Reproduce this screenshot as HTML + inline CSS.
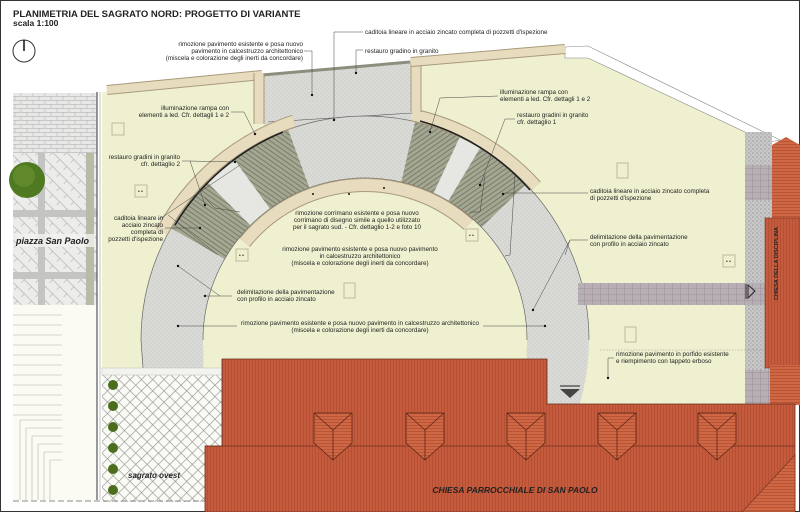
<!DOCTYPE html>
<html><head><meta charset="utf-8"><style>
html,body{margin:0;padding:0;background:#fff}
svg{display:block}
text{font-family:"Liberation Sans",sans-serif;fill:#222}
.s{font-size:6.3px}
</style></head><body>
<svg width="800" height="512" viewBox="0 0 800 512" xmlns="http://www.w3.org/2000/svg">
<defs>
<pattern id="roof" width="3" height="10" patternUnits="userSpaceOnUse"><rect width="3" height="10" fill="#c55b3c"/><rect width="1" height="10" fill="#a9492e" opacity=".6"/></pattern>
<pattern id="roofh" width="10" height="3" patternUnits="userSpaceOnUse"><rect width="10" height="3" fill="#cf6644"/><rect width="10" height="1" fill="#a9492e" opacity=".6"/></pattern>
<pattern id="pave" width="4" height="4" patternUnits="userSpaceOnUse"><rect width="4" height="4" fill="#dadad6"/><circle cx="1" cy="1" r=".6" fill="#c4c4c0"/><circle cx="3" cy="3" r=".6" fill="#c8c8c4"/></pattern>
<pattern id="stair" width="4" height="4" patternUnits="userSpaceOnUse" patternTransform="rotate(35)"><rect width="4" height="4" fill="#a4a791"/><rect width="4" height=".8" fill="#6f725f"/></pattern>
<pattern id="stair2" width="4" height="4" patternUnits="userSpaceOnUse" patternTransform="rotate(-35)"><rect width="4" height="4" fill="#a4a791"/><rect width="4" height=".8" fill="#6f725f"/></pattern>
<pattern id="lat" width="8" height="8" patternUnits="userSpaceOnUse" patternTransform="rotate(45)"><rect width="8" height="8" fill="#fbfbf6"/><rect width="8" height=".7" fill="#9a9a9a"/><rect width=".7" height="8" fill="#9a9a9a"/></pattern>
<pattern id="brick" width="12" height="8" patternUnits="userSpaceOnUse"><rect width="12" height="8" fill="#e8e8e6"/><path d="M0 .5H12M0 4.5H12M3 0V4M9 4V8" stroke="#bdbdbd" stroke-width=".7"/></pattern>
<pattern id="herr" width="10" height="10" patternUnits="userSpaceOnUse" patternTransform="rotate(45)"><rect width="10" height="10" fill="#ececea"/><path d="M0 .5H10M5 0V5" stroke="#b9b9b9" stroke-width=".7"/></pattern>
<pattern id="purp" width="8" height="6" patternUnits="userSpaceOnUse"><rect width="8" height="6" fill="#b8afb5"/><path d="M0 .5H8M.5 0V6" stroke="#9c939a" stroke-width=".6"/></pattern>
<pattern id="gravel" width="4" height="4" patternUnits="userSpaceOnUse"><rect width="4" height="4" fill="#c8c8c8"/><circle cx="1" cy="1" r=".8" fill="#9a9a9a"/><circle cx="3" cy="3" r=".7" fill="#aaa"/></pattern>
<clipPath id="ann"><path clip-rule="evenodd" d="M141,340 a224,224 0 1,0 448,0 a224,224 0 1,0 -448,0 Z M203,340 a162,162 0 1,0 324,0 a162,162 0 1,0 -324,0 Z"/></clipPath>
</defs>

<!-- frame -->
<rect x="0.5" y="0.5" width="799" height="511" fill="#fff" stroke="#333" stroke-width="1"/>

<!-- left piazza -->
<rect x="13" y="93" width="84" height="60" fill="url(#brick)"/>
<rect x="13" y="153" width="84" height="152" fill="url(#herr)"/>
<rect x="13" y="210" width="84" height="7" fill="#c4c4c2"/>
<rect x="13" y="272" width="84" height="7" fill="#c4c4c2"/>
<rect x="38" y="153" width="7" height="152" fill="#c4c4c2"/>
<rect x="86" y="153" width="8" height="152" fill="#b8bba5"/>
<circle cx="27" cy="180" r="18" fill="#4f7a22"/>
<circle cx="24" cy="176" r="11" fill="#6a9330" opacity=".6"/>
<rect x="13" y="305" width="49" height="195" fill="#fbfaf3"/>
<g stroke="#c9c9c0" stroke-width=".8"><path d="M13 315H62M13 325H62M13 335H62M13 345H62M13 355H62M13 365H62M13 375H62M13 385H62M13 395H62M13 405H62M13 415H62"/>
<path d="M20 420V500M26 428V500M32 436V500M38 444V500M44 452V500M50 460V500M20 420H62M26 428H62M32 436H62M38 444H62M44 452H62M50 460H62"/></g>
<rect x="62" y="305" width="34" height="195" fill="#fbfaf3"/>
<line x1="97" y1="92" x2="97" y2="500" stroke="#555" stroke-width="1.2"/>
<line x1="100" y1="92" x2="100" y2="500" stroke="#999" stroke-width=".6"/>
<rect x="17" y="234" width="78" height="13" fill="#f2f2f0" opacity=".8"/>

<!-- main yellow plaza -->
<polygon points="102,92 262,76 410,62 565,48 588,58 745,132 745,405 222,405 222,368 102,368" fill="#eff0cf"/>
<!-- top white strip -->
<polygon points="565,47 588,46 780,140 770,142 745,132 588,58 565,58" fill="#fff" stroke="#888" stroke-width=".6"/>

<!-- top grey band -->
<polygon points="262,76 410,62 412,125 265,132" fill="url(#pave)"/>
<line x1="262" y1="75" x2="410" y2="62" stroke="#8d8f7e" stroke-width="3"/>
<line x1="268" y1="122" x2="413" y2="113" stroke="#555" stroke-width=".6"/>

<!-- arch band -->
<g clip-path="url(#ann)">
<rect x="130" y="100" width="470" height="310" fill="url(#pave)"/>
<polygon points="365,340 153,128 189,97" fill="#e6e6e2"/>
<polygon points="365,340 492,68 519,83" fill="#e6e6e2"/>
<polygon points="365,340 105,190 153,128" fill="url(#stair)"/>
<polygon points="365,340 189,97 262,58" fill="url(#stair)"/>
<polygon points="365,340 432,48 492,68" fill="url(#stair2)"/>
<polygon points="365,340 519,83 581,131" fill="url(#stair2)"/>
</g>
<path d="M141,340 a224,224 0 1,1 448,0" fill="none" stroke="#666" stroke-width=".7"/>
<path d="M203,340 a162,162 0 1,1 324,0" fill="none" stroke="#666" stroke-width=".7"/>
<line x1="141" y1="340" x2="143" y2="368" stroke="#666" stroke-width=".7"/>

<!-- inner yellow -->
<path d="M203.5,340 a161.5,161.5 0 1,1 323,0 L527,405 L203,405Z" fill="#eff0cf"/>

<!-- curbs -->
<g fill="none" stroke-linecap="butt">
<path d="M162,232 A230,230 0 0,1 294,121" stroke="#a89a7a" stroke-width="13"/>
<path d="M162,232 A230,230 0 0,1 294,121" stroke="#e8dcbf" stroke-width="11"/>
<path d="M413,115 A230,230 0 0,1 536,186" stroke="#a89a7a" stroke-width="13"/>
<path d="M413,115 A230,230 0 0,1 536,186" stroke="#e8dcbf" stroke-width="11"/>
<path d="M175,225 A225,225 0 0,1 283,132" stroke="#222" stroke-width="1.6"/>
<path d="M420,121 A225,225 0 0,1 530,190" stroke="#222" stroke-width="1.6"/>
<path d="M244.5,242.5 A155,155 0 0,1 468.7,224.8" stroke="#a89a7a" stroke-width="14"/>
<path d="M244.5,242.5 A155,155 0 0,1 468.7,224.8" stroke="#e8dcbf" stroke-width="12"/>
<path d="M107,90 L262,75" stroke="#a89a7a" stroke-width="10"/>
<path d="M107,90 L262,75" stroke="#e8dcbf" stroke-width="8"/>
<path d="M259,73 L259,124" stroke="#a89a7a" stroke-width="11"/>
<path d="M259,73 L259,124" stroke="#e8dcbf" stroke-width="9"/>
<path d="M416,60 L416,112" stroke="#a89a7a" stroke-width="11"/>
<path d="M416,60 L416,112" stroke="#e8dcbf" stroke-width="9"/>
<path d="M411,62 L565,49" stroke="#a89a7a" stroke-width="10"/>
<path d="M411,62 L565,49" stroke="#e8dcbf" stroke-width="8"/>
</g>

<!-- right strip -->
<rect x="745" y="132" width="27" height="273" fill="url(#gravel)"/>
<rect x="745" y="165" width="27" height="35" fill="url(#purp)"/>
<rect x="578" y="283" width="187" height="22" fill="url(#purp)"/>
<rect x="745" y="370" width="25" height="35" fill="url(#purp)"/>
<polygon points="748,285 755,291 748,298" fill="none" stroke="#222" stroke-width="1"/>
<line x1="746" y1="284" x2="746" y2="299" stroke="#222" stroke-width="1"/>
<line x1="600" y1="350" x2="766" y2="350" stroke="#999" stroke-width=".6" stroke-dasharray="1.5,1.5"/>

<!-- right red building -->
<polygon points="772,145 786,137 800,145 800,220 772,220" fill="url(#roofh)"/>
<rect x="765" y="218" width="35" height="150" fill="url(#roof)" stroke="#7a3520" stroke-width=".6"/>
<rect x="770" y="365" width="30" height="40" fill="url(#roofh)"/>
<text transform="translate(778,300) rotate(-90)" font-size="5.5" font-weight="bold" fill="#111">CHIESA DELLA DISCIPLINA</text>

<!-- sagrato ovest -->
<rect x="102" y="368" width="120" height="134" fill="url(#lat)"/>
<rect x="102" y="368" width="120" height="7" fill="#f3f3ee" stroke="#bbb" stroke-width=".5"/>
<g fill="#4a6e1c"><circle cx="113" cy="385" r="5"/><circle cx="113" cy="406" r="5"/><circle cx="113" cy="427" r="5"/><circle cx="113" cy="448" r="5"/><circle cx="113" cy="469" r="5"/><circle cx="113" cy="490" r="5"/></g>
<line x1="13" y1="501" x2="222" y2="501" stroke="#888" stroke-width="1" stroke-dasharray="6,3"/>

<!-- church -->
<polygon points="222,359 547,359 547,404 795,404 795,512 205,512 205,446 222,446" fill="url(#roof)" stroke="#6b2e1c" stroke-width=".8"/>
<line x1="205" y1="446" x2="795" y2="446" stroke="#6b2e1c" stroke-width=".8"/>
<polygon points="795,455 795,512 742,512" fill="url(#roofh)" stroke="#6b2e1c" stroke-width=".6"/>
<g stroke="#5a2616" stroke-width=".8">
<g transform="translate(314,413)"><polygon points="0,0 38,0 38,30 19,47 0,30" fill="url(#roofh)"/><path d="M0,0 L19,17 L38,0 M19,17 V47" fill="none"/></g>
<g transform="translate(406,413)"><polygon points="0,0 38,0 38,30 19,47 0,30" fill="url(#roofh)"/><path d="M0,0 L19,17 L38,0 M19,17 V47" fill="none"/></g>
<g transform="translate(507,413)"><polygon points="0,0 38,0 38,30 19,47 0,30" fill="url(#roofh)"/><path d="M0,0 L19,17 L38,0 M19,17 V47" fill="none"/></g>
<g transform="translate(598,413)"><polygon points="0,0 38,0 38,30 19,47 0,30" fill="url(#roofh)"/><path d="M0,0 L19,17 L38,0 M19,17 V47" fill="none"/></g>
<g transform="translate(698,413)"><polygon points="0,0 38,0 38,30 19,47 0,30" fill="url(#roofh)"/><path d="M0,0 L19,17 L38,0 M19,17 V47" fill="none"/></g>
</g>
<polygon points="560,389 580,389 570,398" fill="#444"/>
<line x1="560" y1="386" x2="580" y2="386" stroke="#444" stroke-width="1.2"/>

<!-- symbols -->
<g fill="none" stroke="#b0ad90" stroke-width=".8">
<rect x="112" y="123" width="12" height="12"/>
<rect x="135" y="185" width="12" height="12"/><rect x="236" y="249" width="12" height="12"/>
<rect x="466" y="229" width="12" height="12"/><rect x="723" y="255" width="12" height="12"/>
<rect x="617" y="163" width="11" height="15"/><rect x="344" y="283" width="11" height="15"/><rect x="625" y="327" width="11" height="15"/>
</g>
<g font-size="5" fill="#555"><text x="138" y="193">• •</text><text x="239" y="257">• •</text><text x="469" y="237">• •</text><text x="726" y="263">• •</text></g>

<!-- north -->
<circle cx="24" cy="51" r="11" fill="none" stroke="#333" stroke-width="1"/>
<line x1="24" y1="40" x2="24" y2="51" stroke="#111" stroke-width="1.5"/>

<!-- titles -->
<text x="13" y="17" font-size="9.5" font-weight="bold">PLANIMETRIA DEL SAGRATO NORD: PROGETTO DI VARIANTE</text>
<text x="13" y="26" font-size="8.5" font-weight="bold">scala 1:100</text>
<text x="16" y="244" font-size="9" font-weight="bold" font-style="italic">piazza San Paolo</text>
<text x="128" y="478" font-size="8" font-weight="bold" font-style="italic">sagrato ovest</text>
<text x="515" y="493" font-size="8.5" font-weight="bold" font-style="italic" text-anchor="middle" fill="#111">CHIESA PARROCCHIALE DI SAN PAOLO</text>

<!-- leaders -->
<g stroke="#444" stroke-width=".5" fill="none">
<path d="M304,51 H312 V95"/><path d="M334,32 H363"/><path d="M334,32 V120"/><path d="M356,50 H363 M356,50 V73"/>
<path d="M231,112 L244,112 L255,134"/><path d="M182,161 L190,161 L205,205 M190,161 L235,162"/>
<path d="M165,228 L200,228"/><path d="M158,220 L240,165"/>
<path d="M178,326 L237,326 M483,326 L545,326"/><path d="M232,296 L220,296 L178,266 M220,296 L205,296"/>
<path d="M240,212 L215,208 L205,198"/><path d="M470,212 L480,212 L485,175"/>
<path d="M218,255 L168,215 M505,256 L510,255 L515,175"/>
<path d="M498,96 L440,98 L430,132"/><path d="M515,119 L505,119 L480,185"/>
<path d="M588,193 L505,193 L503,194"/><path d="M588,240 L570,240 L533,310 M570,240 L565,255"/>
<path d="M614,358 L608,358 L608,377"/>
</g>
<g fill="#111">
<circle cx="312" cy="95" r="1.2"/><circle cx="334" cy="120" r="1.2"/><circle cx="356" cy="73" r="1.2"/><circle cx="255" cy="134" r="1.2"/>
<circle cx="205" cy="205" r="1.2"/><circle cx="235" cy="162" r="1.2"/><circle cx="200" cy="228" r="1.2"/>
<circle cx="178" cy="326" r="1.2"/><circle cx="545" cy="326" r="1.2"/><circle cx="178" cy="266" r="1.2"/><circle cx="205" cy="296" r="1.2"/>
<circle cx="430" cy="132" r="1.2"/><circle cx="480" cy="185" r="1.2"/><circle cx="503" cy="194" r="1.2"/><circle cx="533" cy="310" r="1.2"/>
<circle cx="608" cy="378" r="1.2"/><circle cx="313" cy="194" r="1"/><circle cx="349" cy="194" r="1"/><circle cx="384" cy="188" r="1"/>
</g>

<!-- labels -->
<g class="s">
<text x="303" y="46" text-anchor="end">rimozione pavimento esistente e posa nuovo</text>
<text x="303" y="53" text-anchor="end">pavimento in calcestruzzo architettonico</text>
<text x="303" y="60" text-anchor="end">(miscela e colorazione degli inerti da concordare)</text>
<text x="365" y="34">caditoia lineare in acciaio zincato completa di pozzetti d'ispezione</text>
<text x="365" y="53">restauro gradino in granito</text>
<text x="229" y="110" text-anchor="end">illuminazione rampa con</text>
<text x="229" y="117" text-anchor="end">elementi a led. Cfr. dettagli 1 e 2</text>
<text x="180" y="159" text-anchor="end">restauro gradini in granito</text>
<text x="180" y="166" text-anchor="end">cfr. dettaglio 2</text>
<text x="163" y="220" text-anchor="end">caditoia lineare in</text>
<text x="163" y="227" text-anchor="end">acciaio zincato</text>
<text x="163" y="234" text-anchor="end">completa di</text>
<text x="163" y="241" text-anchor="end">pozzetti d'ispezione</text>
<text x="357" y="215" text-anchor="middle">rimozione corrimano esistente e posa nuovo</text>
<text x="357" y="222" text-anchor="middle">corrimano di disegno simile a quello utilizzato</text>
<text x="357" y="229" text-anchor="middle">per il sagrato sud. - Cfr. dettaglio 1-2 e foto 10</text>
<text x="360" y="251" text-anchor="middle">rimozione pavimento esistente e posa nuovo pavimento</text>
<text x="360" y="258" text-anchor="middle">in calcestruzzo architettonico</text>
<text x="360" y="265" text-anchor="middle">(miscela e colorazione degli inerti da concordare)</text>
<text x="237" y="294">delimitazione della pavimentazione</text>
<text x="237" y="301">con profilo in acciaio zincato</text>
<text x="360" y="325" text-anchor="middle">rimozione pavimento esistente e posa nuovo pavimento in calcestruzzo architettonico</text>
<text x="360" y="332" text-anchor="middle">(miscela e colorazione degli inerti da concordare)</text>
<text x="500" y="94">illuminazione rampa con</text>
<text x="500" y="101">elementi a led. Cfr. dettagli 1 e 2</text>
<text x="517" y="117">restauro gradini in granito</text>
<text x="517" y="124">cfr. dettaglio 1</text>
<text x="590" y="193">caditoia lineare in acciaio zincato completa</text>
<text x="590" y="200">di pozzetti d'ispezione</text>
<text x="590" y="239">delimitazione della pavimentazione</text>
<text x="590" y="246">con profilo in acciaio zincato</text>
<text x="616" y="356">rimozione pavimento in porfido esistente</text>
<text x="616" y="363">e riempimento con tappeto erboso</text>
</g>
</svg>
</body></html>
